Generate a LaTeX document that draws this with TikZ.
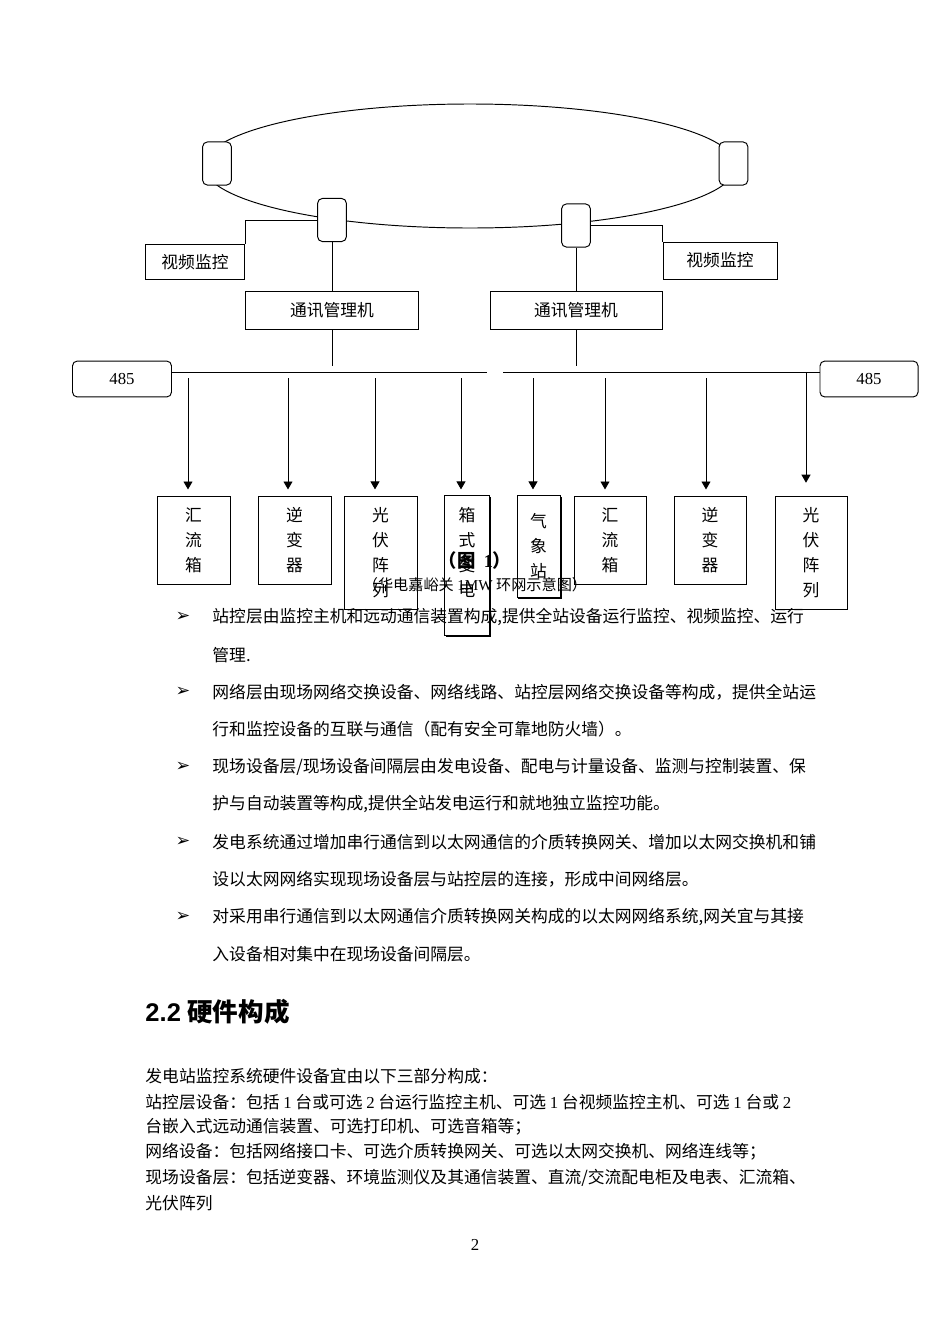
\documentclass[tikz,border=0pt]{standalone}
\usepackage{fontspec}
\setmainfont{Liberation Serif}
\newfontfamily\cjk{Noto Sans CJK SC}
\newfontfamily\symfont{DejaVu Sans}
\newfontfamily\headfont{Liberation Sans}
\usetikzlibrary{positioning, arrows.meta}
\newcommand\lt[1]{{\rmfamily #1}}

\tikzset{
  ringbox/.style={draw, fill=white, rounded corners=3pt, minimum width=18pt, minimum height=27pt, inner sep=0pt},
  plainbox/.style={draw, inner sep=0pt, font=\cjk\fontsize{10.5}{12}\selectfont},
  portbox/.style={draw, rounded corners=3pt, minimum width=62pt, minimum height=22.5pt, inner sep=0pt, font=\fontsize{10.5}{12}\selectfont},
  devbox/.style={draw, inner sep=0pt, align=center, font=\cjk\fontsize{10.5}{15.66}\selectfont},
  arr/.style={-{Triangle[length=5pt,width=5.6pt]}},
  bodyline/.style={anchor=west, inner sep=0pt, font=\cjk\fontsize{10.5}{12}\selectfont},
  bulletmark/.style={inner sep=0pt, font=\symfont\fontsize{11}{12}\selectfont}
}

\begin{document}
\begin{tikzpicture}[x=0.6263pt, y=-0.6263pt, line width=0.6pt]
    \useasboundingbox (0,0) rectangle (950,1344);

    % ring network
    \draw (470,166) ellipse [x radius=266, y radius=62];
    \node[ringbox] (R1) at (217,163.5) {};
    \node[ringbox] (R2) at (733.5,163.5) {};
    \node[ringbox] (R3) at (332,220) {};
    \node[ringbox] (R4) at (576,225.5) {};

    \node[plainbox, minimum width=62.6pt, minimum height=22.5pt] (V1) at (195,262) {视频监控};
    \node[plainbox, minimum width=71.4pt, minimum height=23.2pt] (V2) at (720,260.5) {视频监控};
    \node[plainbox, minimum width=108.3pt, minimum height=23.8pt] (M1) at (332,310) {通讯管理机};
    \node[plainbox, minimum width=107.7pt, minimum height=23.8pt] (M2) at (576,310) {通讯管理机};
    \draw (R3.west) -| (V1.north east);
    \draw (R4.east) -| (V2.north west);
    \draw (R3.south) -- (M1.north);
    \draw (R4.south) -- (M2.north);

    % 485 bus
    \node[portbox] (P1) at (122,379) {485};
    \node[portbox, minimum width=61.4pt] (P2) at (869,379) {485};
    \coordinate (busL) at (487,372);
    \coordinate (busR) at (503,372);
    \coordinate (m1e) at (332,366);
    \coordinate (m2e) at (576,366);
    \draw (P1.east |- busL) -- (busL);
    \draw (busR) -- (P2.west |- busR);
    \draw (M1.south) -- (m1e);
    \draw (M2.south) -- (m2e);

    % field devices
    \node[devbox, minimum width=45.7pt, minimum height=55.7pt] (B1) at (193.5,540.5) {汇\\流\\箱};
    \node[devbox, minimum width=45.7pt, minimum height=55.7pt] (B2) at (294.5,540.5) {逆\\变\\器};
    \node[devbox, minimum width=45.7pt, minimum height=70.8pt] (B3) at (380.5,552.5) {光\\伏\\阵\\列};
    \node[devbox, minimum width=27.6pt, minimum height=87.1pt] (B4) at (467,565.5) {箱\\式\\变\\电\\\phantom{站}};
    \node[devbox, minimum width=26.9pt, minimum height=63.3pt] (B5) at (538.5,546.5) {气\\象\\站};
    \node[devbox, minimum width=45.1pt, minimum height=55.7pt] (B6) at (610,540.5) {汇\\流\\箱};
    \node[devbox, minimum width=45.1pt, minimum height=55.7pt] (B7) at (710,540.5) {逆\\变\\器};
    \node[devbox, minimum width=45.1pt, minimum height=70.8pt] (B8) at (811,552.5) {光\\伏\\阵\\列};
    \draw ([xshift=0.7pt,yshift=-0.8pt]B4.north east) -- ([xshift=0.7pt,yshift=-0.7pt]B4.south east) -- ([xshift=0.8pt,yshift=-0.7pt]B4.south west);
    \draw ([xshift=0.7pt,yshift=-0.8pt]B5.north east) -- ([xshift=0.7pt,yshift=-0.7pt]B5.south east) -- ([xshift=0.8pt,yshift=-0.7pt]B5.south west);

    \coordinate (a1) at (188,378);
    \coordinate (a2) at (288,378);
    \coordinate (a3) at (375,378);
    \coordinate (a4) at (461,378);
    \coordinate (a5) at (533,378);
    \coordinate (a6) at (605,378);
    \coordinate (a7) at (706,378);
    \coordinate (a8) at (806,372);
    \draw[arr, shorten >=3.8pt] (a1) -- (a1 |- B1.north);
    \draw[arr, shorten >=3.8pt] (a2) -- (a2 |- B2.north);
    \draw[arr, shorten >=3.8pt] (a3) -- (a3 |- B3.north);
    \draw[arr, shorten >=3.8pt] (a4) -- (a4 |- B4.north);
    \draw[arr, shorten >=3.8pt] (a5) -- (a5 |- B5.north);
    \draw[arr, shorten >=3.8pt] (a6) -- (a6 |- B6.north);
    \draw[arr, shorten >=3.8pt] (a7) -- (a7 |- B7.north);
    \draw[arr, shorten >=8pt] (a8) -- (a8 |- B8.north);

    % caption
    \node[inner sep=0pt, font=\cjk\bfseries\fontsize{11.5}{13}\selectfont] (cap1) at (475,561) {（图\ \ \lt{\bfseries 1}）};
    \node[inner sep=0pt, font=\cjk\fontsize{9.5}{11}\selectfont] (cap2) at (475,585) {（华电嘉峪关 \lt{1MW} 环网示意图）};

    % bullet list
    \node[bulletmark] (k1) at (183,617) {➢};
    \node[bulletmark] (k2) at (183,692) {➢};
    \node[bulletmark] (k3) at (183,767) {➢};
    \node[bulletmark] (k4) at (183,842) {➢};
    \node[bulletmark] (k5) at (183,917) {➢};
    \node[bodyline] (t1) at (212,617) {站控层由监控主机和远动通信装置构成,提供全站设备运行监控、视频监控、运行};
    \node[bodyline] (t2) at (212,655) {管理.};
    \node[bodyline] (t3) at (212,692) {网络层由现场网络交换设备、网络线路、站控层网络交换设备等构成，提供全站运};
    \node[bodyline] (t4) at (212,729) {行和监控设备的互联与通信（配有安全可靠地防火墙）。};
    \node[bodyline] (t5) at (212,767) {现场设备层/现场设备间隔层由发电设备、配电与计量设备、监测与控制装置、保};
    \node[bodyline] (t6) at (212,804) {护与自动装置等构成,提供全站发电运行和就地独立监控功能。};
    \node[bodyline] (t7) at (212,842) {发电系统通过增加串行通信到以太网通信的介质转换网关、增加以太网交换机和铺};
    \node[bodyline] (t8) at (212,879) {设以太网网络实现现场设备层与站控层的连接，形成中间网络层。};
    \node[bodyline] (t9) at (212,917) {对采用串行通信到以太网通信介质转换网关构成的以太网网络系统,网关宜与其接};
    \node[bodyline] (t10) at (212,954) {入设备相对集中在现场设备间隔层。};

    % section 2.2
    \node[anchor=west, inner sep=0pt, font=\fontsize{16}{18}\selectfont] (h22) at (145,1012) {{\headfont\bfseries 2.2} {\cjk\bfseries 硬件构成}};
    \node[bodyline] (p1) at (145,1076) {发电站监控系统硬件设备宜由以下三部分构成：};
    \node[bodyline] (p2) at (145,1102) {站控层设备：包括 \lt{1} 台或可选 \lt{2} 台运行监控主机、可选 \lt{1} 台视频监控主机、可选 \lt{1} 台或 \lt{2}};
    \node[bodyline] (p3) at (145,1127) {台嵌入式远动通信装置、可选打印机、可选音箱等；};
    \node[bodyline] (p4) at (145,1152) {网络设备：包括网络接口卡、可选介质转换网关、可选以太网交换机、网络连线等；};
    \node[bodyline] (p5) at (145,1178) {现场设备层：包括逆变器、环境监测仪及其通信装置、直流/交流配电柜及电表、汇流箱、};
    \node[bodyline] (p6) at (145,1203) {光伏阵列};
    \node[inner sep=0pt, font=\fontsize{10.5}{12}\selectfont] (pg) at (475,1245) {2};
\end{tikzpicture}
\end{document}
